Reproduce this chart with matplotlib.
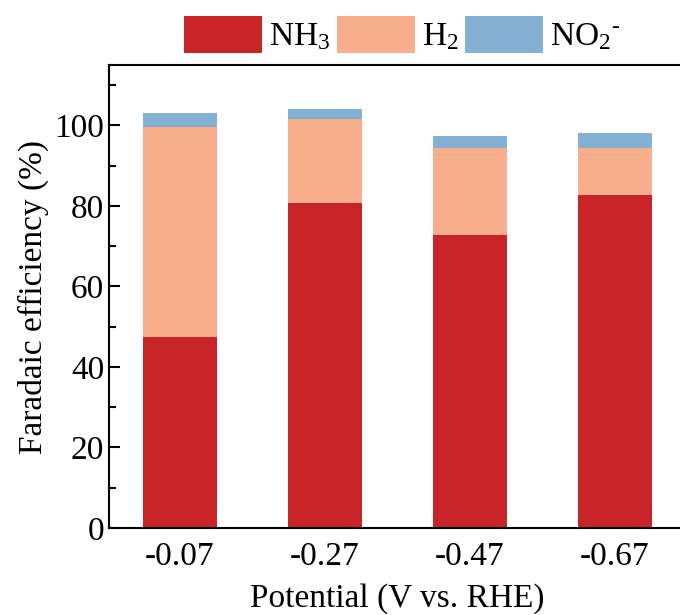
import matplotlib
matplotlib.use('Agg')
import matplotlib.pyplot as plt
import numpy as np

plt.rcParams['font.family'] = ['Liberation Serif', 'DejaVu Serif']
plt.rcParams['mathtext.fontset'] = 'custom'
plt.rcParams['mathtext.rm'] = 'Liberation Serif'
plt.rcParams['mathtext.it'] = 'Liberation Serif:italic'

# data
potentials = ['-0.07', '-0.27', '-0.47', '-0.67']
fe_nh3 = [47.5, 80.6, 72.7, 82.7]
fe_h2 = [52.0, 20.9, 21.8, 11.8]
fe_no2 = [3.7, 2.5, 2.8, 3.7]

c_nh3 = '#C82428'
c_h2 = '#F7AE8D'
c_no2 = '#83B0D3'

fig = plt.figure(figsize=(6.8, 6.15), dpi=100)
ax = fig.add_axes([109/680, 87/615, 577/680, 463/615])

x = np.arange(len(potentials))
width = 0.51
b1 = ax.bar(x, fe_nh3, width, color=c_nh3, label='NH$_3$')
b2 = ax.bar(x, fe_h2, width, bottom=fe_nh3, color=c_h2, label='H$_2$')
bottom2 = np.array(fe_nh3) + np.array(fe_h2)
b3 = ax.bar(x, fe_no2, width, bottom=bottom2, color=c_no2, label=r'NO$_2$$^{\text{-}}$')

ax.set_xlim(-0.49, 3.49)
ax.set_ylim(0, 115)
ax.set_xticks(x)
ax.set_xticklabels(potentials)
ax.set_yticks(range(0, 101, 20))
ax.set_yticks(range(10, 111, 20), minor=True)

for s in ax.spines.values():
    s.set_linewidth(1.5)
ax.spines['right'].set_visible(False)

ax.tick_params(axis='y', which='major', direction='in', length=8, width=1.5, labelsize=24)
ax.tick_params(axis='y', which='minor', direction='in', length=5, width=1.5)
ax.tick_params(axis='x', length=0, labelsize=24, pad=10)

ax.set_xlabel('Potential (V vs. RHE)', fontsize=24, labelpad=8)
ax.set_ylabel('Faradaic efficiency (%)', fontsize=24, labelpad=4)

fig.legend(handles=[b1, b2, b3], loc='center', bbox_to_anchor=(0.591, 0.944),
           ncol=3, frameon=False, fontsize=24, handlelength=2.35, handleheight=1.3,
           handletextpad=0.2, columnspacing=0.2, borderaxespad=0)

fig.savefig('out.png', dpi=100)
